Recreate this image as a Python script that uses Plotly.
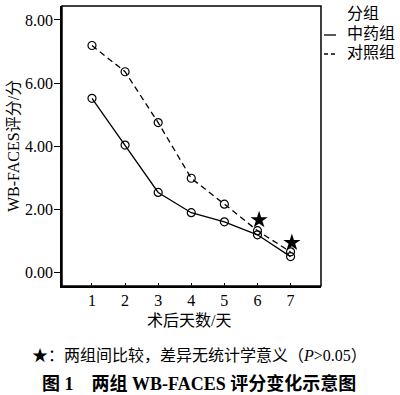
import plotly.graph_objects as go

days = [1, 2, 3, 4, 5, 6, 7]
tcm_group = [5.52, 4.04, 2.54, 1.90, 1.61, 1.20, 0.51]
control_group = [7.19, 6.36, 4.75, 2.99, 2.17, 1.33, 0.66]
star_x = [6.05, 7.04]
star_y = [1.67, 0.95]
y_ticks = [0, 2, 4, 6, 8]

FONT = "Liberation Serif, Noto Sans CJK SC, serif"

L, R, T, B = 62, 79, 6, 109
W, H = 400, 395
PW, PH = W - L - R, H - T - B


def px_x(px):
    return (px - L) / PW


def px_y(py):
    return (H - B - py) / PH


fig = go.Figure()
fig.add_trace(go.Scatter(
    x=days, y=tcm_group, mode="lines+markers", name="中药组",
    line=dict(color="black", width=1.3),
    marker=dict(symbol="circle-open", size=8, color="black", line=dict(width=1.2)),
    showlegend=False))
fig.add_trace(go.Scatter(
    x=days, y=control_group, mode="lines+markers", name="对照组",
    line=dict(color="black", width=1.3, dash="6px,4px"),
    marker=dict(symbol="circle-open", size=8, color="black", line=dict(width=1.2)),
    showlegend=False))
fig.add_trace(go.Scatter(
    x=star_x, y=star_y, mode="markers",
    marker=dict(symbol="star", size=13, color="black"),
    showlegend=False))

fig.update_layout(
    width=W, height=H,
    margin=dict(l=L, r=R, t=T, b=B),
    paper_bgcolor="white", plot_bgcolor="white",
    font=dict(family=FONT, color="black", size=16),
    xaxis=dict(range=[0.094, 7.92], tickvals=days, ticks="inside", ticklen=3,
               tickwidth=1.2, tickcolor="black", showgrid=False,
               zeroline=False, showline=True, linecolor="black", linewidth=1.5,
               mirror=False, tickfont=dict(size=16), automargin=False,
               ticklabelstandoff=-1),
    yaxis=dict(range=[-0.42, 8.44], tickvals=y_ticks, tickformat=".2f",
               ticks="outside", ticklen=6, tickwidth=1.3, tickcolor="black",
               showgrid=False, zeroline=False, showline=True, linecolor="black",
               linewidth=1.5, mirror=False, tickfont=dict(size=16), automargin=False,
               ticklabelstandoff=-2),
)

# plot frame (top and right sides)
fig.add_shape(type="rect", xref="paper", yref="paper", x0=0, x1=1, y0=0, y1=1,
              line=dict(color="black", width=1.5), layer="above")

# axis titles
fig.add_annotation(x=px_x(189), y=px_y(320), xref="paper", yref="paper",
                   text="术后天数/天", showarrow=False, xanchor="center",
                   yanchor="middle", font=dict(size=16))
fig.add_annotation(x=px_x(13), y=px_y(146), xref="paper", yref="paper",
                   text="WB-FACES评分/分", showarrow=False, textangle=-90,
                   xanchor="center", yanchor="middle", font=dict(size=16))

# legend drawn manually
fig.add_annotation(x=px_x(345), y=px_y(13), xref="paper", yref="paper", text="分组",
                   showarrow=False, xanchor="left", yanchor="middle", font=dict(size=16))
fig.add_annotation(x=px_x(345), y=px_y(34), xref="paper", yref="paper", text="中药组",
                   showarrow=False, xanchor="left", yanchor="middle", font=dict(size=16))
fig.add_annotation(x=px_x(345), y=px_y(53), xref="paper", yref="paper", text="对照组",
                   showarrow=False, xanchor="left", yanchor="middle", font=dict(size=16))
fig.add_shape(type="line", xref="paper", yref="paper", x0=px_x(324), x1=px_x(336),
              y0=px_y(35), y1=px_y(35), line=dict(color="black", width=1.3))
fig.add_shape(type="line", xref="paper", yref="paper", x0=px_x(324), x1=px_x(337),
              y0=px_y(54), y1=px_y(54), line=dict(color="black", width=1.3, dash="4px,3px"))

# captions
fig.add_annotation(x=px_x(199), y=px_y(355), xref="paper", yref="paper",
                   text="★：两组间比较，差异无统计学意义（<i>P</i>>0.05）",
                   showarrow=False, xanchor="center", yanchor="middle",
                   font=dict(size=16))
fig.add_annotation(x=px_x(199), y=px_y(383), xref="paper", yref="paper",
                   text="<b>图 1　两组 WB-FACES 评分变化示意图</b>",
                   showarrow=False, xanchor="center", yanchor="middle",
                   font=dict(size=18))

fig.write_html("out.html", post_script="document.body.style.margin='0';",
               config={"displayModeBar": False})
